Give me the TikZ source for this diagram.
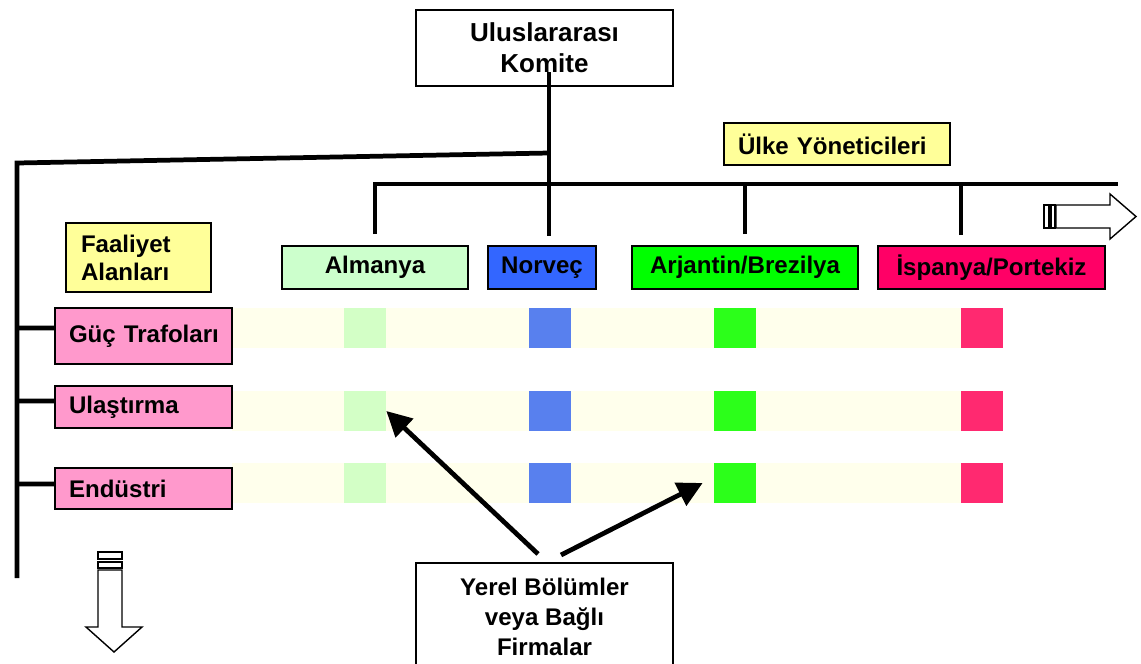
\documentclass[tikz,border=0pt]{standalone}
\usepackage{fontspec}
\setmainfont{Liberation Sans}
\usetikzlibrary{arrows.meta,calc}
\definecolor{paleyellow}{HTML}{FFFF99}
\definecolor{palepink}{HTML}{FF99CC}
\definecolor{bandcol}{HTML}{FFFFEC}
\definecolor{degreen}{HTML}{CCFFCC}
\definecolor{noblue}{HTML}{3366FF}
\definecolor{argreen}{HTML}{00FF00}
\definecolor{esred}{HTML}{FF0066}
\definecolor{degreencell}{HTML}{D3FFC6}
\definecolor{nobluecell}{HTML}{5880EE}
\definecolor{argreencell}{HTML}{2CFF1A}
\definecolor{esredcell}{HTML}{FF2970}
\begin{document}
\begin{tikzpicture}[x=0.02cm,y=-0.02cm,
  box/.style={draw=black, line width=0.9pt, inner sep=0pt,
    font=\bfseries\fontsize{13.7}{16}\selectfont},
  leftbox/.style={box, align=left, inner xsep=0.28cm},
  country/.style={box, minimum height=0.86cm},
  bus/.style={line width=2.7pt},
  ptr/.style={line width=2.7pt, -{Triangle[length=0.5cm,width=0.5cm]}},
  band/.style={fill=bandcol, draw=none, inner sep=0pt,
    minimum width=15.42cm, minimum height=0.8cm, anchor=west},
  cell/.style={draw=none, inner sep=0pt, minimum width=0.84cm, minimum height=0.8cm},
  blockarrow/.style={draw=black, fill=white, line width=0.8pt}
]
\useasboundingbox (0,0) rectangle (1141,663);

% activity rows: pale bands with one cell per country
\node[band] (band1) at (232,328) {};
\node[band] (band2) at (232,411) {};
\node[band] (band3) at (232,483) {};
\foreach \r/\y in {1/328,2/411,3/483}{
  \node[cell, fill=degreencell]  (sq\r1) at (365,\y) {};
  \node[cell, fill=nobluecell]   (sq\r2) at (550,\y) {};
  \node[cell, fill=argreencell]  (sq\r3) at (735,\y) {};
  \node[cell, fill=esredcell]    (sq\r4) at (982,\y) {};
}

% committee and managers
\node[box, fill=white, minimum width=5.14cm, minimum height=1.52cm, align=center,
  font=\bfseries\fontsize{14.8}{17.6}\selectfont] (top) at (544.5,48) {Uluslararası\\Komite};
\node[leftbox, fill=paleyellow, text width=3.96cm, minimum height=0.84cm] (ulke) at (837,144) {Ülke Yöneticileri};
\node[leftbox, fill=paleyellow, text width=2.3cm, inner xsep=0.3cm, minimum height=1.38cm,
  font=\bfseries\fontsize{13.7}{15.9}\selectfont] (faal) at (138.5,257.5) {Faaliyet\\Alanları};

% countries
\node[country, fill=degreen, minimum width=3.72cm] (de) at (375,267.5) {Almanya};
\node[country, fill=noblue, minimum width=2.16cm] (no) at (542,267.5) {Norveç};
\node[country, fill=argreen, minimum width=4.52cm] (ar) at (745,267.5) {Arjantin/Brezilya};
\node[country, fill=esred, minimum width=4.54cm] (es) at (991.5,267.5) {İspanya/Portekiz};

% fields of activity
\node[leftbox, fill=palepink, text width=2.98cm, minimum height=1.12cm] (guc) at (143.5,336) {\mbox{Güç Trafoları}};
\node[leftbox, fill=palepink, text width=2.98cm, minimum height=0.84cm] (ula) at (143.5,407) {Ulaştırma};
\node[leftbox, fill=palepink, text width=2.98cm, minimum height=0.82cm] (end) at (143.5,488.5) {Endüstri};

% local units
\node[box, fill=white, anchor=north, minimum width=5.14cm, minimum height=2.16cm, align=center,
  font=\bfseries\fontsize{13.7}{17}\selectfont] (yerel) at (544.5,562) {Yerel Bölümler\\veya Bağlı\\Firmalar};

% hierarchy lines
\coordinate (trunktop) at (549,72);
\coordinate (junction) at (549,153);
\coordinate (trunkbot) at (549,236);
\coordinate (leftcorner) at (17,163);
\coordinate (leftbot) at (17,578);
\coordinate (busleft) at (375,184);
\coordinate (busright) at (1118,184);
\draw[bus] (trunktop) -- (trunkbot);
\draw[bus] (junction) -- (leftcorner) -- (leftbot);
\draw[bus] ($(de.north)+(0,-11)$) -- (busleft) -- (busright);
\draw[bus] ($(ar.north)+(0,-11)$) -- (ar.north |- busleft);
\draw[bus] (961,235) -- (961,184);
\draw[bus] ([yshift=0.16cm]guc.west) -- (leftcorner |- 0,328);
\draw[bus] ([yshift=0.12cm]ula.west) -- (leftcorner |- 0,401);
\draw[bus] ([yshift=0.09cm]end.west) -- (leftcorner |- 0,484);

% pointers from the local units
\coordinate (p1) at (538,554);
\coordinate (p2) at (561,555);
\draw[ptr] (p1) -- (sq21.east);
\draw[ptr] (p2) -- ($(sq33.west)+(-11,0)$);

% continuation arrows
\draw[blockarrow] (1056,205) -- (1110,205) -- (1110,194) -- (1136,216.5)
  -- (1110,239) -- (1110,228) -- (1056,228) -- cycle;
\draw[blockarrow] (1044,205) rectangle (1049,228);
\draw[blockarrow] (1051,205) rectangle (1055,228);
\draw[blockarrow] (98,570) -- (98,627) -- (86,627) -- (114,652) -- (142,627)
  -- (122,627) -- (122,570) -- cycle;
\draw[blockarrow] (98,552) rectangle (122,559);
\draw[blockarrow] (98,562) rectangle (122,568);
\end{tikzpicture}
\end{document}
